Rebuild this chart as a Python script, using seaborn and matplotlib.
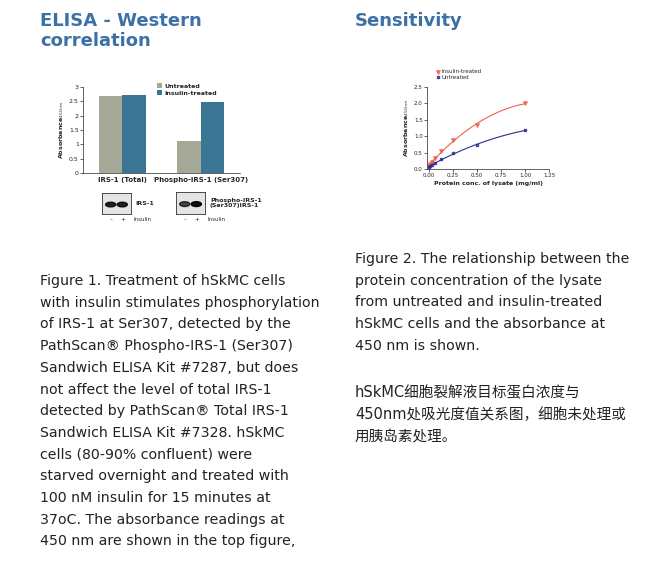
import matplotlib
matplotlib.use("Agg")
import matplotlib.pyplot as plt
import seaborn as sns
import numpy as np
import pandas as pd
from matplotlib.patches import Ellipse, Rectangle

sns.set_theme(style="ticks")
plt.rcParams['font.family'] = ['DejaVu Sans', 'Noto Sans CJK SC']

# ---- data ----
bar_groups = ["IRS-1 (Total)", "Phospho-IRS-1 (Ser307)"]
untreated_vals = [2.70, 1.10]
insulin_vals = [2.73, 2.48]
conc = [0.0, 0.0156, 0.031, 0.0625, 0.125, 0.25, 0.5, 1.0]
insulin_abs = [0.08, 0.15, 0.22, 0.33, 0.55, 0.88, 1.33, 2.00]
untreated_abs = [0.06, 0.10, 0.13, 0.18, 0.30, 0.48, 0.72, 1.18]
bar_yticks = [0, 0.5, 1, 1.5, 2, 2.5, 3]
line_xticks = [0.0, 0.25, 0.5, 0.75, 1.0, 1.25]
line_yticks = [0.0, 0.5, 1.0, 1.5, 2.0, 2.5]

W, H = 646, 561
fig = plt.figure(figsize=(W/100, H/100), dpi=100)
def ax_px(l, t, r, b):
    return fig.add_axes([l/W, 1-b/H, (r-l)/W, (b-t)/H])

blue = "#3d70a5"
fig.text(40/W, 1-12/H, "ELISA - Western\ncorrelation", color=blue, fontsize=13,
         fontweight="bold", va="top", ha="left", linespacing=1.15)
fig.text(355/W, 1-12/H, "Sensitivity", color=blue, fontsize=13,
         fontweight="bold", va="top", ha="left")

# ---- bar chart ----
ax = ax_px(83, 87, 240, 173)
df = pd.DataFrame({"group": bar_groups*2,
                   "val": untreated_vals + insulin_vals,
                   "cond": ["Untreated"]*2 + ["Insulin-treated"]*2})
sns.barplot(data=df, x="group", y="val", hue="cond", ax=ax,
            palette=["#a5a896", "#3a7694"], width=0.6, saturation=1,
            edgecolor="none")
ax.set_xlim(-0.5, 1.5)
ax.set_ylim(0, 3)
ax.set_yticks(bar_yticks)
ax.set_yticklabels(["0", "0.5", "1", "1.5", "2", "2.5", "3"])
ax.tick_params(labelsize=4.5, length=2, width=0.5, pad=1)
for lab in ax.get_xticklabels():
    lab.set_fontweight("bold")
ax.tick_params(axis="x", length=0, labelsize=5, pad=3)
ax.set_xlabel("")
ax.set_ylabel("Absorbance$_{450nm}$", fontsize=4.5, fontweight="bold", labelpad=2)
for s in ["top", "right"]:
    ax.spines[s].set_visible(False)
for s in ["left", "bottom"]:
    ax.spines[s].set_linewidth(0.5)
ax.legend(loc="upper left", bbox_to_anchor=(0.45, 1.08), frameon=False,
          handlelength=0.8, handleheight=0.8, borderpad=0, labelspacing=0.2,
          handletextpad=0.4, prop={"weight": "bold", "size": 4.5})

# ---- blots ----
def blot(l, t, r, b, intens, label, labx):
    bx = ax_px(l, t, r, b)
    bx.set_xlim(0, 1); bx.set_ylim(0, 1)
    bx.add_patch(Rectangle((0, 0), 1, 1, color="#e4e4e4"))
    for xc, a in zip([0.3, 0.7], intens):
        bx.add_patch(Ellipse((xc, 0.45), 0.35, 0.22, color="black", alpha=a))
    bx.set_xticks([]); bx.set_yticks([])
    for s in bx.spines.values():
        s.set_linewidth(0.6); s.set_color("#333333")
    fig.text(labx/W, 1-(t+b)/2/H, label, fontsize=4.5, fontweight="bold",
             va="center", ha="left", linespacing=1.1)
    fig.text((l+(r-l)*0.3)/W, 1-(b+6)/H, "\u2013", fontsize=4, ha="center", va="center")
    fig.text((l+(r-l)*0.7)/W, 1-(b+6)/H, "+", fontsize=4, ha="center", va="center")
    fig.text((r+2)/W, 1-(b+6)/H, "Insulin", fontsize=4, ha="left", va="center")

blot(102, 193, 131, 214, [0.85, 0.85], "IRS-1", 135)
blot(176, 192, 205, 214, [0.7, 0.95], "Phospho-IRS-1\n(Ser307)IRS-1", 210)

# ---- line chart ----
lx = ax_px(427, 87, 549, 169)
sns.regplot(x=conc, y=insulin_abs, order=2, ci=None, ax=lx, marker="v",
            color="#f0604a", scatter_kws={"s": 6}, line_kws={"lw": 0.8})
sns.regplot(x=conc, y=untreated_abs, order=2, ci=None, ax=lx, marker="s",
            color="#2a2f8f", scatter_kws={"s": 4}, line_kws={"lw": 0.8})
lx.set_xlim(-0.02, 1.25); lx.set_ylim(0, 2.5)
lx.set_xticks(line_xticks); lx.set_yticks(line_yticks)
lx.set_xticklabels(["0.00", "0.25", "0.50", "0.75", "1.00", "1.25"])
lx.tick_params(labelsize=4, length=2, width=0.5, pad=1)
lx.set_xlabel("Protein conc. of lysate (mg/ml)", fontsize=4.5, fontweight="bold", labelpad=2)
lx.set_ylabel("Absorbance$_{450nm}$", fontsize=4.5, fontweight="bold", labelpad=2)
for s in ["top", "right"]:
    lx.spines[s].set_visible(False)
for s in ["left", "bottom"]:
    lx.spines[s].set_linewidth(0.5)
h = [c for c in lx.collections][:2]
lx.legend(h, ["Insulin-treated", "Untreated"], loc="upper left",
          bbox_to_anchor=(0.05, 1.25), fontsize=4, frameon=False, handlelength=0.8,
          borderpad=0, labelspacing=0.1, handletextpad=0.3)

# ---- body text ----
fs = 10.2
ls = 1.70
body1 = ("Figure 1. Treatment of hSkMC cells\nwith insulin stimulates phosphorylation\n"
         "of IRS-1 at Ser307, detected by the\nPathScan\u00ae Phospho-IRS-1 (Ser307)\n"
         "Sandwich ELISA Kit #7287, but does\nnot affect the level of total IRS-1\n"
         "detected by PathScan\u00ae Total IRS-1\nSandwich ELISA Kit #7328. hSkMC\n"
         "cells (80-90% confluent) were\nstarved overnight and treated with\n"
         "100 nM insulin for 15 minutes at\n37oC. The absorbance readings at\n"
         "450 nm are shown in the top figure,")
fig.text(40/W, 1-274/H, body1, fontsize=fs, va="top", ha="left", linespacing=ls,
         color="#222222")
body2 = ("Figure 2. The relationship between the\nprotein concentration of the lysate\n"
         "from untreated and insulin-treated\nhSkMC cells and the absorbance at\n"
         "450 nm is shown.")
fig.text(355/W, 1-252/H, body2, fontsize=fs, va="top", ha="left", linespacing=ls,
         color="#222222")
body3 = "hSkMC细胞裂解液目标蛋白浓度与\n450nm处吸光度值关系图，细胞未处理或\n用胰岛素处理。"
fig.text(355/W, 1-385/H, body3, fontsize=10.5, va="top", ha="left", linespacing=1.58,
         color="#222222")

fig.savefig("out.png", dpi=100)
